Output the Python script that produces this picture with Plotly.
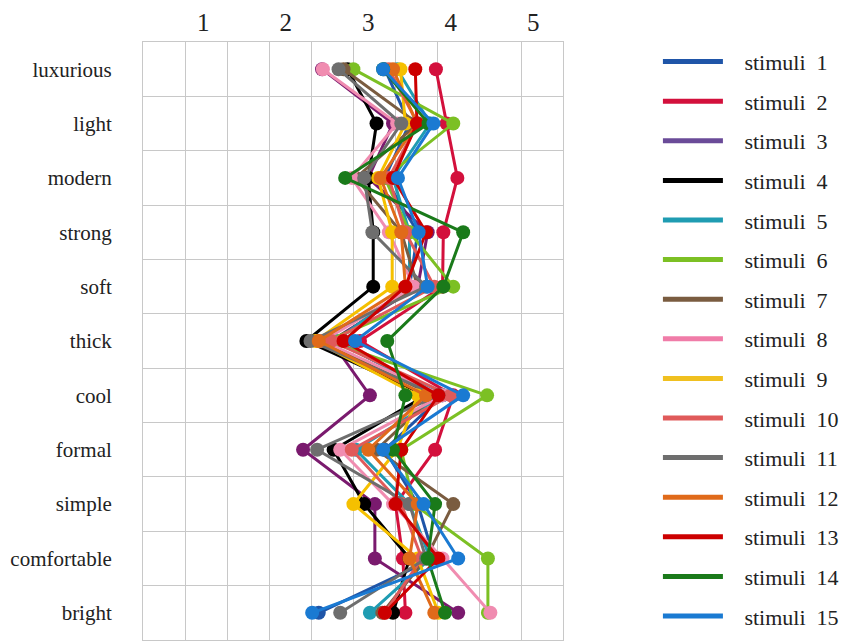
import plotly.graph_objects as go

attributes = ["luxurious", "light", "modern", "strong", "soft", "thick",
              "cool", "formal", "simple", "comfortable", "bright"]
x_ticks = [1, 2, 3, 4, 5]

s1 = [3.20, 3.50, 3.20, 3.60, 3.50, 2.60, 3.90, 3.20, 3.60, 3.80, 2.40]
s2 = [3.82, 3.95, 4.08, 3.91, 3.90, 2.90, 4.03, 3.81, 3.33, 3.42, 3.45]
s3 = [2.44, 3.30, 3.00, 3.72, 3.60, 2.55, 3.02, 2.21, 3.08, 3.08, 4.09]
s4 = [2.75, 3.10, 3.00, 3.06, 3.06, 2.25, 3.70, 2.58, 2.95, 3.50, 3.30]
s5 = [3.35, 3.75, 3.30, 3.50, 3.50, 2.60, 3.90, 2.85, 3.50, 3.75, 3.02]
s6 = [2.82, 4.03, 3.20, 3.50, 4.03, 2.50, 4.44, 3.40, 3.55, 4.45, 4.45]
s7 = [2.70, 3.60, 2.85, 3.40, 3.60, 2.40, 3.80, 3.10, 4.03, 3.70, 3.17]
s8 = [2.45, 3.35, 2.80, 3.25, 3.55, 2.45, 3.90, 2.66, 3.30, 3.90, 4.48]
s9 = [3.39, 3.45, 3.12, 3.29, 3.29, 2.36, 3.60, 3.35, 2.82, 3.60, 3.85]
s10 = [3.25, 3.60, 3.25, 3.45, 3.80, 2.55, 4.00, 2.80, 3.40, 3.65, 3.20]
s11 = [2.64, 3.40, 2.95, 3.05, 3.70, 2.30, 3.85, 2.38, 3.50, 3.70, 2.66]
s12 = [3.30, 3.59, 3.15, 3.40, 3.45, 2.40, 3.70, 3.00, 3.60, 3.50, 3.80]
s13 = [3.57, 3.59, 3.30, 3.70, 3.45, 2.70, 3.85, 3.40, 3.33, 3.85, 3.20]
s14 = [3.18, 3.73, 2.72, 4.15, 3.91, 3.23, 3.45, 3.30, 3.81, 3.72, 3.93]
s15 = [3.18, 3.79, 3.36, 3.61, 3.72, 2.84, 4.15, 3.18, 3.67, 4.09, 2.32]

series = [s1, s2, s3, s4, s5, s6, s7, s8, s9, s10, s11, s12, s13, s14, s15]
names = ["stimuli  %d" % (i + 1) for i in range(15)]
colors = ["#1f55a8", "#d3103c", "#7a1a6e", "#000000", "#1f9cb2", "#7cc024",
          "#7a5c40", "#f08cb0", "#f5c000", "#e05a5a", "#6e6e6e", "#e06a1a",
          "#cc0000", "#1a7a1a", "#1a7ad2"]
legend_colors = ["#1f55a8", "#d3103c", "#6a4b98", "#000000", "#1f9cb2", "#7cc024",
                 "#7a5c40", "#f07ca8", "#f0c020", "#e05a5a", "#6e6e6e", "#e06a1a",
                 "#cc0000", "#1a7a1a", "#1a7ad2"]

SERIF = "Liberation Serif, Times New Roman, Times, serif"

fig = go.Figure()
for i, (vals, nm, col) in enumerate(zip(series, names, colors)):
    fig.add_trace(go.Scatter(
        x=vals, y=attributes, mode="lines+markers", name=nm,
        legendgroup="g%d" % i, showlegend=False,
        line=dict(color=col, width=3),
        marker=dict(color=col, size=14),
    ))
# legend entries: line samples only
for i, (nm, col) in enumerate(zip(names, legend_colors)):
    label = "\u00a0\u00a0\u00a0" + nm.replace(" ", "\u00a0")
    fig.add_trace(go.Scatter(
        x=[None], y=[None], mode="lines", name=label,
        legendgroup="g%d" % i, showlegend=True,
        line=dict(color=col, width=5),
    ))

x0, x1 = 0.27, 5.36
grid_x = [x0 + k * (x1 - x0) / 10 for k in range(11)]

fig.update_layout(
    width=859, height=642,
    margin=dict(l=135, r=304, t=34, b=10, autoexpand=False),
    paper_bgcolor="white", plot_bgcolor="white",
    font=dict(family=SERIF, color="#222222"),
    showlegend=True,
    legend=dict(
        x=1.226, y=1.002, xanchor="left", yanchor="top",
        font=dict(family=SERIF, size=22, color="#222222"),
        itemwidth=60, tracegroupgap=8, bgcolor="rgba(0,0,0,0)",
        maxheight=1.0,
    ),
    xaxis=dict(
        side="top", range=[x0, x1], tickmode="array", tickvals=x_ticks,
        ticktext=[str(v) for v in x_ticks], automargin=False,
        showgrid=False, zeroline=False, ticks="",
        tickfont=dict(size=25, family=SERIF, color="#222222"),
        showline=True, mirror=True, linecolor="#c8c8c8", linewidth=1,
        minor=dict(tickmode="array", tickvals=grid_x, showgrid=True,
                   gridcolor="#c8c8c8", gridwidth=1, ticks=""),
    ),
    yaxis=dict(
        type="category", categoryorder="array", categoryarray=attributes,
        range=[10.5, -0.5], automargin=False,
        tickson="boundaries", showgrid=True,
        gridcolor="#c8c8c8", gridwidth=1, ticks="", ticklabelstandoff=26,
        tickfont=dict(size=21, family=SERIF, color="#222222"),
        showline=True, mirror=True, linecolor="#c8c8c8", linewidth=1,
        zeroline=False,
    ),
)

fig.write_html("out.html")
